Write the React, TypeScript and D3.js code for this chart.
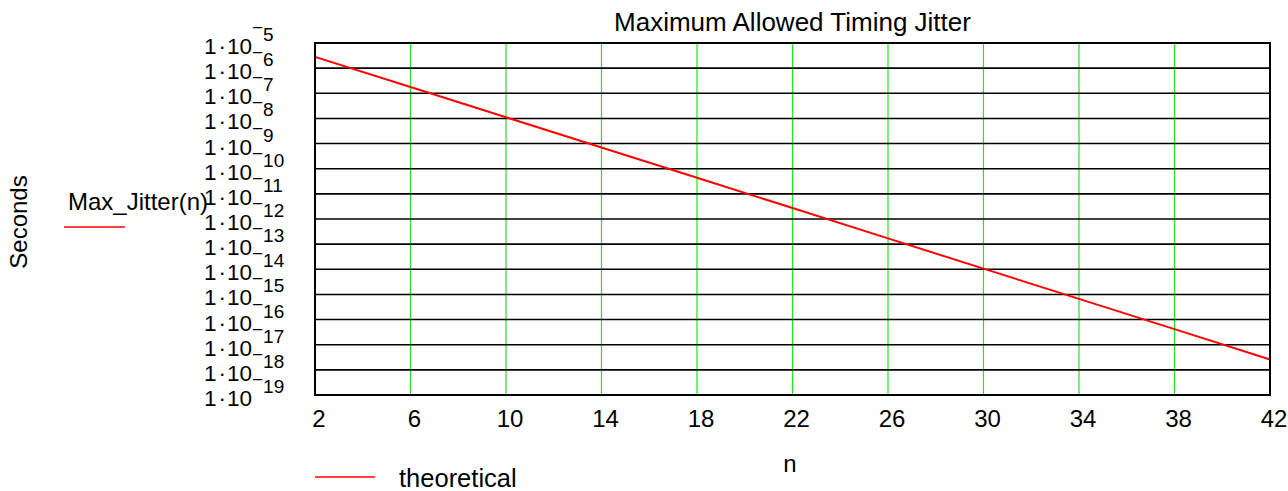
import { useMemo } from "react";
import { line, scaleLinear, scaleLog } from "d3";

const WIDTH = 1288;
const HEIGHT = 491;
const FONT = "'Liberation Sans', Arial, sans-serif";

// n (bits) and the read-off jitter values in seconds
const nValues = [2, 6, 10, 14, 18, 22, 26, 30, 34, 38, 42];
const maxJitter = [2.8e-6, 1.78e-7, 1.11e-8, 6.97e-10, 4.36e-11, 2.72e-12, 1.7e-13, 1.06e-14, 6.65e-16, 4.16e-17, 2.6e-18];
const xTicks = [2, 6, 10, 14, 18, 22, 26, 30, 34, 38, 42];
const yExponents = [-5, -6, -7, -8, -9, -10, -11, -12, -13, -14, -15, -16, -17, -18, -19];

const left = 315;
const right = 1270;
const top = 43;
const bottom = 395;

export default function App() {
  const xScale = useMemo(() => scaleLinear().domain([2, 42]).range([left, right]), []);
  const yScale = useMemo(() => scaleLog().domain([1e-19, 1e-5]).range([bottom, top]), []);
  const path = useMemo(
    () =>
      line<number>()
        .x((_, i) => xScale(nValues[i]))
        .y((v) => yScale(v))(maxJitter),
    [xScale, yScale]
  );

  return (
    <svg
      width={WIDTH}
      height={HEIGHT}
      viewBox={`0 0 ${WIDTH} ${HEIGHT}`}
      style={{ position: "absolute", left: 0, top: 0, background: "#fff" }}
      fontFamily={FONT}
    >
      <text x={(left + right) / 2} y={31} textAnchor="middle" fontSize={26} fill="#000">
        Maximum Allowed Timing Jitter
      </text>

      {/* vertical grid */}
      {xTicks.slice(1, -1).map((t) => (
        <line key={`vx${t}`} x1={xScale(t)} x2={xScale(t)} y1={top} y2={bottom} stroke="#1ee61e" strokeWidth={1.2} />
      ))}
      {/* horizontal grid */}
      {yExponents.slice(1, -1).map((e) => (
        <line key={`hy${e}`} x1={left} x2={right} y1={yScale(Math.pow(10, e))} y2={yScale(Math.pow(10, e))} stroke="#000" strokeWidth={1.6} />
      ))}

      <path d={path ?? ""} fill="none" stroke="#ff0000" strokeWidth={2} />

      <rect x={left} y={top} width={right - left} height={bottom - top} fill="none" stroke="#000" strokeWidth={2} />

      {/* x tick labels */}
      {xTicks.map((t) => (
        <text key={`xt${t}`} x={xScale(t) + 4} y={427} textAnchor="middle" fontSize={24} fill="#000">
          {t}
        </text>
      ))}

      {/* y tick labels 1·10^e */}
      {yExponents.map((e) => {
        const y = yScale(Math.pow(10, e));
        return (
          <g key={`yt${e}`}>
            <text x={252} y={y + 11} textAnchor="end" fontSize={22.5} fill="#000">
              1<tspan dx={2}>·</tspan>
              <tspan dx={1}>10</tspan>
            </text>
            <text x={252} y={y - 2} fontSize={19} fill="#000">
              <tspan dy={-7}>−</tspan>
              <tspan dy={7}>{Math.abs(e)}</tspan>
            </text>
          </g>
        );
      })}

      <text x={790} y={472} textAnchor="middle" fontSize={24} fill="#000">
        n
      </text>

      <text transform="translate(27,222) rotate(-90)" textAnchor="middle" fontSize={24} fill="#000">
        Seconds
      </text>

      {/* left legend */}
      <text x={68} y={210} fontSize={24} fill="#000">
        Max_Jitter(n)
      </text>
      <line x1={64} x2={125} y1={227} y2={227} stroke="#ff0000" strokeWidth={1.6} />

      {/* bottom legend */}
      <line x1={315} x2={375} y1={477} y2={477} stroke="#ff0000" strokeWidth={1.6} />
      <text x={399} y={487} fontSize={25.5} fill="#000">
        theoretical
      </text>
    </svg>
  );
}
